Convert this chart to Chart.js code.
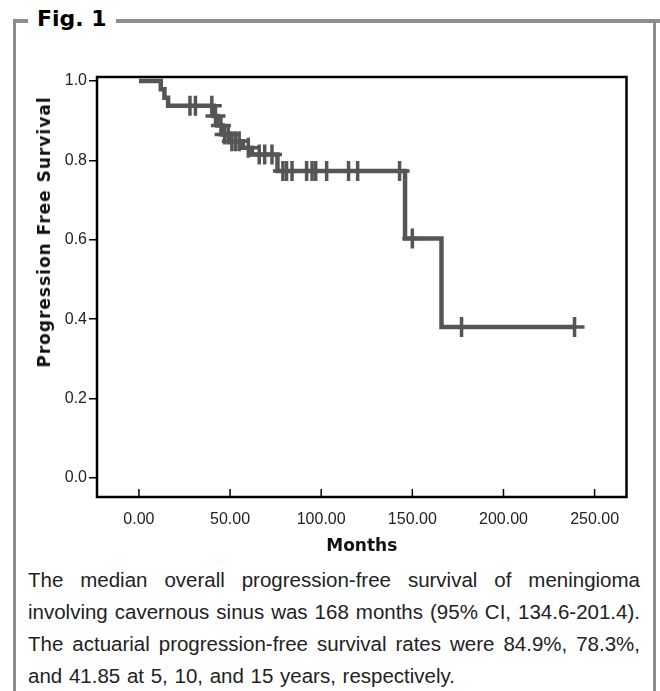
<!DOCTYPE html>
<html>
<head>
<meta charset="utf-8">
<script src="https://cdn.jsdelivr.net/npm/chart.js@4"></script>
<style>
  body { margin: 0; width: 660px; height: 691px; background: #fff; position: relative; overflow: hidden; }
  .frame { position: absolute; left: 13px; top: 20px; width: 637px; height: 700px;
           border-left: 3px solid #8c8c8c; border-right: 3px solid #8c8c8c; }
  .topline { position: absolute; left: 13px; top: 19px; width: 647px; height: 4px; background: #8c8c8c; }
  .figtitle { position: absolute; left: 28px; top: 4px; padding: 0 9px; background: #fff;
              font: bold 22px "DejaVu Sans", sans-serif; color: #000; line-height: 30px; }
  #wrap { position: absolute; left: 20px; top: 60px; width: 620px; height: 500px; }
  .ytitle { position: absolute; left: 44px; top: 232px; transform: translate(-50%, -50%) rotate(-90deg);
            white-space: nowrap; font: bold 17px "DejaVu Sans", sans-serif; color: #111; letter-spacing: 1px; }
  .caption { position: absolute; left: 28px; top: 564px; width: 612px;
             font: 20.5px "Liberation Sans", Arial, sans-serif; color: #222; line-height: 32px; }
  .caption div { text-align: justify; text-align-last: justify; white-space: nowrap; }
  .caption div.last { text-align-last: left; word-spacing: 1px; }
</style>
</head>
<body>
<div class="topline"></div>
<div class="frame"></div>
<div class="figtitle">Fig. 1</div>
<div id="wrap"><canvas id="km" width="620" height="500"></canvas></div>
<div class="ytitle">Progression Free Survival</div>
<div class="caption">
  <div>The median overall progression-free survival of meningioma</div>
  <div>involving cavernous sinus was 168 months (95% CI, 134.6-201.4).</div>
  <div>The actuarial progression-free survival rates were 84.9%, 78.3%,</div>
  <div class="last">and 41.85 at 5, 10, and 15 years, respectively.</div>
</div>
<script>
// Kaplan-Meier steps (months, survival after the step)
const stepTimes = [0, 12, 14, 16, 41, 43, 46, 50, 57, 62, 76, 146, 166, 239];
const stepSurv = [1.0, 0.979, 0.958, 0.9375, 0.912, 0.888, 0.865, 0.848, 0.832, 0.815, 0.773, 0.603, 0.38, 0.38];

// censored cases (months)
const censorTimes = [28, 31, 40, 42, 45, 47, 49, 51, 53, 55, 60, 66, 69, 73,
    79, 81, 84, 92, 95, 97, 103, 115, 120, 143, 150, 177, 239];

const xTicks = [0, 50, 100, 150, 200, 250];
const yTicks = [0, 0.2, 0.4, 0.6, 0.8, 1.0];

function survAt(t) {
    let s = stepSurv[0];
    for (let i = 0; i < stepTimes.length; i++) {
        if (stepTimes[i] <= t) s = stepSurv[i];
    }
    return s;
}

const curve = stepTimes.map((t, i) => ({x: t, y: stepSurv[i]}));
const censored = censorTimes.map(t => ({x: t, y: survAt(t)}));

const lineColor = '#555555';
const tickFont = {family: '"Liberation Sans", Arial, sans-serif', size: 16};

// black box round the plot + inner x tick marks
const boxPlugin = {
    id: 'box',
    afterDraw(chart) {
        const {ctx, chartArea: a} = chart;
        const xs = chart.scales.x;
        ctx.save();
        ctx.strokeStyle = '#000';
        ctx.lineWidth = 1.5;
        xs.ticks.forEach(tk => {
            const px = xs.getPixelForValue(tk.value);
            ctx.beginPath();
            ctx.moveTo(px, a.bottom);
            ctx.lineTo(px, a.bottom - 8);
            ctx.stroke();
        });
        ctx.lineWidth = 2.5;
        ctx.strokeRect(a.left, a.top, a.right - a.left, a.bottom - a.top);
        ctx.restore();
    }
};

new Chart(document.getElementById('km').getContext('2d'), {
    type: 'line',
    data: {
        datasets: [
            {
                data: curve,
                stepped: true,
                borderColor: lineColor,
                borderWidth: 4.5,
                pointRadius: 0,
                fill: false
            },
            {
                data: censored,
                showLine: false,
                pointStyle: 'cross',
                pointRadius: 10,
                pointBorderWidth: 3.5,
                pointBorderColor: lineColor,
                borderColor: lineColor
            }
        ]
    },
    options: {
        responsive: false,
        animation: false,
        layout: {padding: {top: 17, right: 13, left: 0, bottom: 0}},
        plugins: {legend: {display: false}, tooltip: {enabled: false}},
        scales: {
            x: {
                type: 'linear',
                min: -23,
                max: 267.5,
                afterFit: s => { s.height = 63; },
                afterBuildTicks: s => { s.ticks = xTicks.map(v => ({value: v})); },
                grid: {display: false, drawTicks: false},
                border: {display: false},
                ticks: {
                    padding: 13,
                    color: '#222',
                    font: tickFont,
                    maxRotation: 0,
                    callback: v => v.toFixed(2)
                },
                title: {
                    display: true,
                    text: 'Months',
                    color: '#111',
                    font: {family: '"DejaVu Sans", sans-serif', size: 17, weight: 'bold'},
                    padding: {top: 0, bottom: 3}
                }
            },
            y: {
                min: -0.048,
                max: 1.01,
                afterFit: s => { s.width = 77; },
                afterBuildTicks: s => { s.ticks = yTicks.map(v => ({value: v})); },
                grid: {drawOnChartArea: false, drawTicks: true, tickLength: 8, color: '#000', lineWidth: 1.5},
                border: {display: false},
                ticks: {
                    padding: 2,
                    color: '#222',
                    font: tickFont,
                    callback: v => v.toFixed(1)
                }
            }
        }
    },
    plugins: [boxPlugin]
});
</script>
</body>
</html>
